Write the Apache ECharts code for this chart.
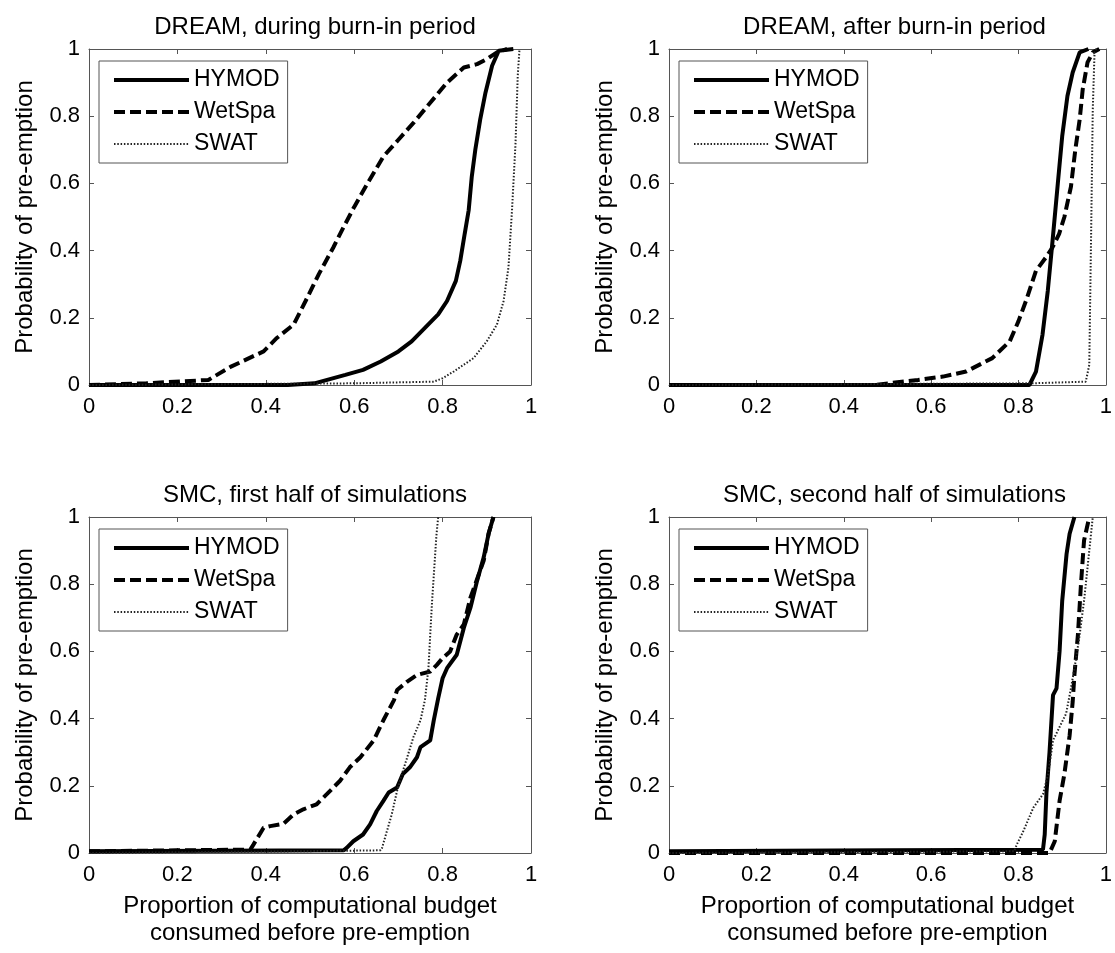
<!DOCTYPE html>
<html>
<head>
<meta charset="utf-8">
<script src="https://cdn.jsdelivr.net/npm/echarts@6/dist/echarts.min.js"></script>
<style>
html,body{margin:0;padding:0;background:#fff;}
#chart{width:1115px;height:953px;}
</style>
</head>
<body>
<div id="chart"></div>
<script>
// ---- Data (x = proportion of budget, y = probability) ----
const seriesNames = ['HYMOD', 'WetSpa', 'SWAT'];
const panelTitles = ['DREAM, during burn-in period', 'DREAM, after burn-in period',
                     'SMC, first half of simulations', 'SMC, second half of simulations'];
const xTickValues = [0, 0.2, 0.4, 0.6, 0.8, 1];
const yTickValues = [0, 0.2, 0.4, 0.6, 0.8, 1];

// Panel 1: DREAM, during burn-in
const dreamBurnHymod = [[0,0],[0.45,0],[0.51,0.005],[0.58,0.03],[0.62,0.045],[0.66,0.07],[0.70,0.10],[0.73,0.13],[0.76,0.17],[0.79,0.21],[0.81,0.25],[0.83,0.31],[0.84,0.37],[0.85,0.45],[0.859,0.52],[0.866,0.62],[0.874,0.70],[0.885,0.79],[0.897,0.87],[0.912,0.95],[0.927,0.995],[0.96,1.0]];
const dreamBurnWetspa = [[0,0],[0.13,0.005],[0.27,0.015],[0.32,0.054],[0.395,0.10],[0.425,0.14],[0.463,0.18],[0.49,0.25],[0.52,0.33],[0.553,0.41],[0.576,0.47],[0.60,0.53],[0.63,0.60],[0.666,0.68],[0.70,0.73],[0.734,0.78],[0.772,0.84],[0.81,0.90],[0.848,0.945],[0.878,0.955],[0.90,0.97],[0.923,0.99],[0.946,1.0]];
const dreamBurnSwat = [[0,0],[0.6,0.005],[0.78,0.01],[0.80,0.02],[0.825,0.04],[0.87,0.08],[0.90,0.13],[0.923,0.18],[0.938,0.25],[0.949,0.35],[0.957,0.52],[0.965,0.72],[0.97,0.92],[0.974,1.0]];

// Panel 2: DREAM, after burn-in
const dreamAfterHymod = [[0,0],[0.825,0],[0.84,0.04],[0.855,0.15],[0.867,0.28],[0.878,0.43],[0.89,0.60],[0.90,0.74],[0.912,0.86],[0.924,0.93],[0.94,0.99],[0.96,1.0]];
const dreamAfterWetspa = [[0,0],[0.47,0],[0.57,0.015],[0.627,0.025],[0.68,0.04],[0.74,0.08],[0.78,0.13],[0.80,0.19],[0.817,0.25],[0.84,0.34],[0.863,0.38],[0.878,0.41],[0.893,0.45],[0.905,0.50],[0.92,0.59],[0.93,0.70],[0.94,0.79],[0.947,0.88],[0.958,0.96],[0.97,0.99],[0.985,1.0]];
const dreamAfterSwat = [[0,0],[0.83,0.005],[0.954,0.01],[0.962,0.06],[0.966,0.43],[0.97,0.82],[0.974,0.99],[0.978,1.0]];

// Panel 3: SMC, first half
const smcFirstHymod = [[0,0.005],[0.576,0.008],[0.583,0.015],[0.598,0.035],[0.62,0.055],[0.636,0.085],[0.651,0.125],[0.666,0.155],[0.678,0.18],[0.697,0.195],[0.71,0.235],[0.726,0.255],[0.742,0.285],[0.75,0.315],[0.772,0.335],[0.78,0.395],[0.79,0.46],[0.80,0.52],[0.81,0.55],[0.832,0.59],[0.848,0.67],[0.863,0.73],[0.878,0.81],[0.893,0.88],[0.904,0.95],[0.915,1.0]];
const smcFirstWetspa = [[0,0.005],[0.2,0.008],[0.365,0.01],[0.372,0.025],[0.395,0.075],[0.41,0.08],[0.44,0.087],[0.463,0.115],[0.485,0.13],[0.515,0.145],[0.538,0.175],[0.568,0.215],[0.59,0.255],[0.614,0.285],[0.644,0.335],[0.666,0.395],[0.69,0.455],[0.697,0.485],[0.72,0.51],[0.742,0.53],[0.772,0.54],[0.787,0.56],[0.80,0.58],[0.817,0.60],[0.832,0.65],[0.848,0.68],[0.863,0.76],[0.882,0.83],[0.893,0.87],[0.904,0.95],[0.915,1.0]];
const smcFirstSwat = [[0,0],[0.47,0.005],[0.66,0.008],[0.663,0.015],[0.674,0.065],[0.685,0.115],[0.697,0.185],[0.708,0.235],[0.72,0.285],[0.734,0.345],[0.75,0.395],[0.76,0.455],[0.768,0.55],[0.772,0.65],[0.776,0.745],[0.781,0.845],[0.786,0.945],[0.79,1.0]];

// Panel 4: SMC, second half
const smcSecondHymod = [[0,0.005],[0.5,0.008],[0.856,0.01],[0.86,0.055],[0.864,0.18],[0.871,0.30],[0.879,0.47],[0.887,0.49],[0.894,0.60],[0.90,0.75],[0.91,0.89],[0.917,0.95],[0.928,1.0]];
const smcSecondWetspa = [[0,0],[0.871,0],[0.883,0.035],[0.894,0.155],[0.905,0.235],[0.917,0.35],[0.924,0.45],[0.928,0.53],[0.936,0.65],[0.943,0.80],[0.95,0.93],[0.962,1.0]];
const smcSecondSwat = [[0,0],[0.79,0.005],[0.796,0.025],[0.811,0.065],[0.834,0.135],[0.856,0.175],[0.868,0.235],[0.879,0.335],[0.894,0.375],[0.909,0.415],[0.92,0.49],[0.932,0.58],[0.94,0.65],[0.95,0.75],[0.958,0.85],[0.966,0.95],[0.97,1.0]];

const panelData = [
  [dreamBurnHymod, dreamBurnWetspa, dreamBurnSwat],
  [dreamAfterHymod, dreamAfterWetspa, dreamAfterSwat],
  [smcFirstHymod, smcFirstWetspa, smcFirstSwat],
  [smcSecondHymod, smcSecondWetspa, smcSecondSwat]
];

// ---- Layout / style ----
const FONT = 'Liberation Sans, Arial, Helvetica, sans-serif';
const grids = [
  {left: 89, top: 49, width: 442, height: 336},
  {left: 669, top: 49, width: 441, height: 336},
  {left: 89, top: 517, width: 442, height: 336},
  {left: 669, top: 517, width: 441, height: 336}
];
const lineStyles = [
  {color: '#000', width: 4, type: 'solid'},
  {color: '#000', width: 4, type: [11, 5]},
  {color: '#222', width: 2, type: [1.5, 1.8]}
];
const axisColor = '#555';

const option = {
  animation: false,
  backgroundColor: '#fff',
  textStyle: {fontFamily: FONT},
  title: [], grid: [], xAxis: [], yAxis: [], legend: [], series: []
};

grids.forEach((g, i) => {
  option.grid.push({left: g.left, top: g.top, width: g.width, height: g.height, containLabel: false});
  option.title.push({
    text: panelTitles[i], left: g.left + g.width / 2, top: g.top - 39, textAlign: 'center',
    textStyle: {fontFamily: FONT, fontSize: 24, fontWeight: 'normal', color: '#000'}
  });
  const bottomRow = i >= 2;
  option.xAxis.push({
    type: 'value', gridIndex: i, min: 0, max: 1, interval: 0.2, position: 'bottom',
    axisLine: {show: true, onZero: false, lineStyle: {color: axisColor, width: 1}},
    axisTick: {show: true, inside: true, length: 5, lineStyle: {color: axisColor}},
    axisLabel: {show: true, color: '#000', fontSize: 22, fontFamily: FONT, margin: 11},
    splitLine: {show: false},
    name: bottomRow ? 'Proportion of computational budget\nconsumed before pre-emption' : '',
    nameLocation: 'middle', nameGap: 40,
    nameTextStyle: {color: '#000', fontSize: 24, fontFamily: FONT, lineHeight: 27}
  });
  option.xAxis.push({
    type: 'value', gridIndex: i, min: 0, max: 1, interval: 0.2, position: 'top',
    axisLine: {show: true, onZero: false, lineStyle: {color: axisColor, width: 1}},
    axisTick: {show: true, inside: true, length: 5, lineStyle: {color: axisColor}},
    axisLabel: {show: false}, splitLine: {show: false}
  });
  option.yAxis.push({
    type: 'value', gridIndex: i, min: 0, max: 1, interval: 0.2, position: 'left',
    axisLine: {show: true, onZero: false, lineStyle: {color: axisColor, width: 1}},
    axisTick: {show: true, inside: true, length: 5, lineStyle: {color: axisColor}},
    axisLabel: {show: true, color: '#000', fontSize: 22, fontFamily: FONT, margin: 9},
    splitLine: {show: false},
    name: 'Probability of pre-emption', nameLocation: 'middle', nameGap: 52, nameRotate: 90,
    nameTextStyle: {color: '#000', fontSize: 24, fontFamily: FONT}
  });
  option.yAxis.push({
    type: 'value', gridIndex: i, min: 0, max: 1, interval: 0.2, position: 'right',
    axisLine: {show: true, onZero: false, lineStyle: {color: axisColor, width: 1}},
    axisTick: {show: true, inside: true, length: 5, lineStyle: {color: axisColor}},
    axisLabel: {show: false}, splitLine: {show: false}
  });
  option.legend.push({
    left: g.left + 10, top: g.top + 12, orient: 'vertical',
    data: seriesNames.map((n, k) => ({
      name: n,
      lineStyle: {color: lineStyles[k].color, width: lineStyles[k].width, type: lineStyles[k].type}
    })),
    selectedMode: false,
    backgroundColor: '#fff', borderColor: axisColor, borderWidth: 1, borderRadius: 0,
    padding: [7, 8, 7, 13], itemGap: 8, itemWidth: 75, itemHeight: 14,
    itemStyle: {opacity: 0, color: 'rgba(0,0,0,0)', borderWidth: 0},
    textStyle: {color: '#000', fontSize: 23, fontFamily: FONT, lineHeight: 24}
  });
  seriesNames.forEach((name, k) => {
    option.series.push({
      name: name, type: 'line', xAxisIndex: i * 2, yAxisIndex: i * 2,
      data: panelData[i][k], symbol: 'none', showSymbol: false, clip: false,
      lineStyle: lineStyles[k], itemStyle: {color: lineStyles[k].color},
      emphasis: {disabled: true}, z: 2 + k
    });
  });
});

const chart = echarts.init(document.getElementById('chart'), null, {renderer: 'canvas'});
chart.setOption(option);
</script>
</body>
</html>
